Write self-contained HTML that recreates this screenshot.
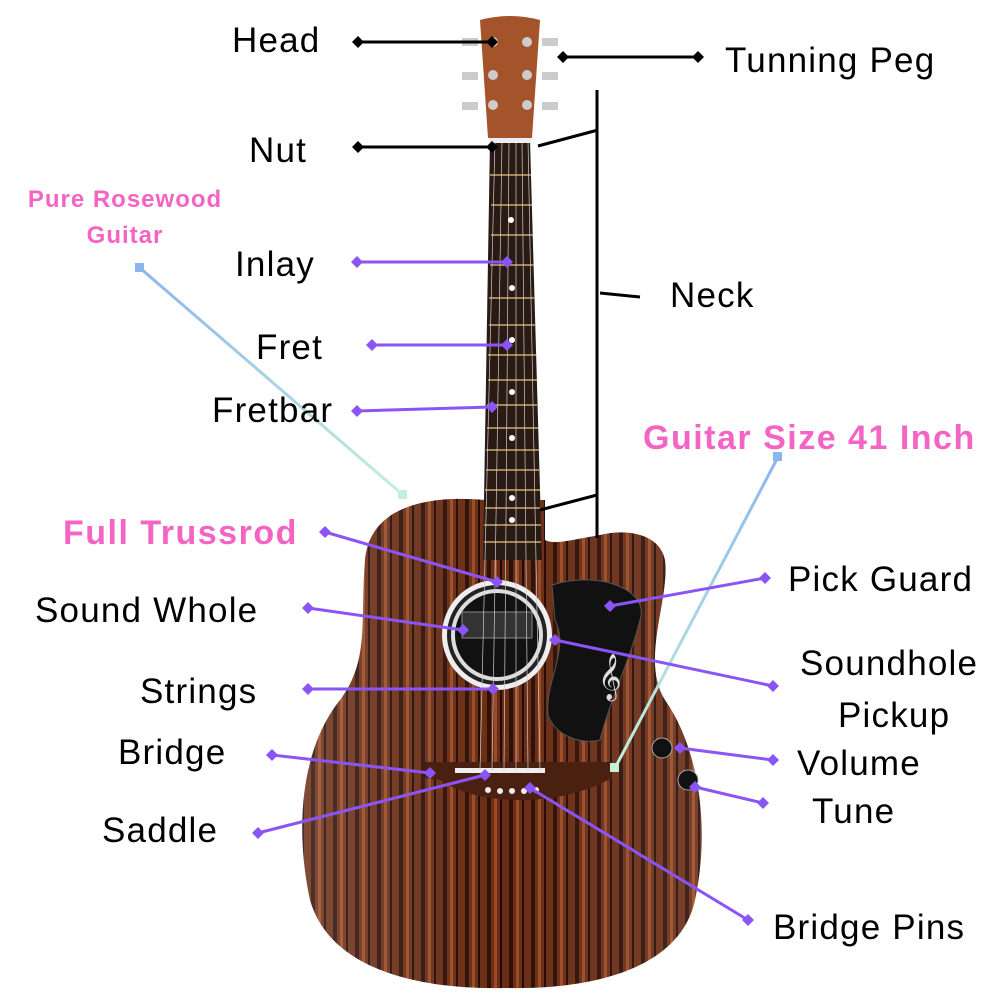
<!DOCTYPE html>
<html><head><meta charset="utf-8"><style>
html,body{margin:0;padding:0;background:#fff;}
svg{display:block}
text{font-family:"Liberation Sans",sans-serif;}
</style></head><body>
<svg width="1000" height="1000" viewBox="0 0 1000 1000" xmlns="http://www.w3.org/2000/svg">
<defs>
<pattern id="wood" width="22" height="1000" patternUnits="userSpaceOnUse">
<rect width="22" height="1000" fill="#6a2c14"/>
<rect x="3" width="4" height="1000" fill="#2e0f06"/>
<rect x="10" width="3" height="1000" fill="#9a4a24"/>
<rect x="16" width="2" height="1000" fill="#220a04"/>
</pattern>
<linearGradient id="shine" x1="0" y1="0" x2="1" y2="0">
<stop offset="0" stop-color="#fff" stop-opacity="0.15"/>
<stop offset="0.5" stop-color="#fff" stop-opacity="0"/>
<stop offset="1" stop-color="#fff" stop-opacity="0.1"/>
</linearGradient>
<linearGradient id="lb" x1="0" y1="0" x2="1" y2="1">
<stop offset="0" stop-color="#8ab6f0"/><stop offset="1" stop-color="#c4f0d8"/>
</linearGradient>
<linearGradient id="lb2" x1="1" y1="0" x2="0" y2="1">
<stop offset="0" stop-color="#8ab6f0"/><stop offset="1" stop-color="#c4f0d8"/>
</linearGradient>
</defs>
<path d="M485,500 C430,495 370,505 365,560 C360,620 370,660 340,700 C300,750 295,830 310,900 C330,970 420,990 505,988 C590,990 680,970 695,900 C710,830 700,750 665,700 C640,660 670,600 665,560 C660,535 630,528 600,535 C570,540 555,545 545,540 L545,500 Z" fill="url(#wood)"/>
<path d="M485,500 C430,495 370,505 365,560 C360,620 370,660 340,700 C300,750 295,830 310,900 C330,970 420,990 505,988 C590,990 680,970 695,900 C710,830 700,750 665,700 C640,660 670,600 665,560 C660,535 630,528 600,535 C570,540 555,545 545,540 L545,500 Z" fill="url(#shine)"/>
<circle cx="497" cy="635" r="55" fill="#eee"/>
<circle cx="497" cy="635" r="50" fill="#222"/>
<circle cx="497" cy="635" r="46" fill="#ddd"/>
<circle cx="497" cy="635" r="42" fill="#111"/>
<rect x="462" y="612" width="70" height="26" fill="#333" stroke="#888"/>
<path d="M552,585 C600,570 650,590 640,620 C630,660 610,700 600,740 C580,745 555,735 548,715 C545,680 570,650 555,620 Z" fill="#111" stroke="#555"/>
<text x="598" y="690" fill="#ddd" font-size="40">𝄞</text>
<circle cx="662" cy="748" r="10" fill="#111" stroke="#aaa"/>
<circle cx="688" cy="780" r="10" fill="#111" stroke="#aaa"/>
<path d="M425,762 L610,762 L612,778 C590,790 560,800 520,800 C480,800 455,790 440,780 L425,778 Z" fill="#4a2010"/>
<rect x="455" y="768" width="90" height="5" fill="#eee"/>
<g fill="#eee"><circle cx="488" cy="790" r="3"/><circle cx="500" cy="791" r="3"/><circle cx="512" cy="791" r="3"/><circle cx="524" cy="791" r="3"/><circle cx="536" cy="790" r="3"/></g>
<polygon points="490,140 530,140 542,560 483,560" fill="#2a1a14"/>
<g stroke="#c9a96e" stroke-width="1.5">
<line x1="490" y1="175" x2="531" y2="175"/><line x1="491" y1="205" x2="532" y2="205"/><line x1="491" y1="235" x2="533" y2="235"/><line x1="490" y1="265" x2="534" y2="265"/><line x1="489" y1="298" x2="534" y2="298"/><line x1="489" y1="325" x2="535" y2="325"/><line x1="488" y1="355" x2="536" y2="355"/><line x1="488" y1="380" x2="537" y2="380"/><line x1="487" y1="405" x2="537" y2="405"/><line x1="487" y1="428" x2="538" y2="428"/><line x1="486" y1="450" x2="539" y2="450"/><line x1="486" y1="470" x2="539" y2="470"/><line x1="485" y1="490" x2="540" y2="490"/><line x1="485" y1="508" x2="540" y2="508"/><line x1="484" y1="525" x2="541" y2="525"/><line x1="484" y1="542" x2="541" y2="542"/>
</g>
<g stroke="#ccc" stroke-width="0.7">
<line x1="495" y1="140" x2="480" y2="770"/><line x1="502" y1="140" x2="492" y2="770"/><line x1="509" y1="140" x2="504" y2="770"/><line x1="516" y1="140" x2="516" y2="770"/><line x1="522" y1="140" x2="528" y2="770"/><line x1="528" y1="140" x2="540" y2="770"/>
</g>
<g fill="#fff"><circle cx="511" cy="220" r="3"/><circle cx="512" cy="288" r="3"/><circle cx="512" cy="340" r="3"/><circle cx="512" cy="392" r="3"/><circle cx="512" cy="438" r="3"/><circle cx="512" cy="498" r="3"/><circle cx="512" cy="520" r="3"/></g>
<rect x="489" y="138" width="42" height="5" fill="#eee"/>
<path d="M480,20 Q510,12 540,20 L532,138 L488,138 Z" fill="#a4532a"/>
<g fill="#ccc"><circle cx="493" cy="42" r="5"/><circle cx="493" cy="75" r="5"/><circle cx="493" cy="105" r="5"/><circle cx="527" cy="42" r="5"/><circle cx="527" cy="75" r="5"/><circle cx="527" cy="105" r="5"/>
<rect x="462" y="38" width="16" height="8"/><rect x="462" y="72" width="16" height="8"/><rect x="462" y="102" width="16" height="8"/><rect x="542" y="38" width="16" height="8"/><rect x="542" y="72" width="16" height="8"/><rect x="542" y="102" width="16" height="8"/></g>
<g stroke="#000" stroke-width="3">
<line x1="597" y1="90" x2="597" y2="538"/><line x1="538" y1="146" x2="598" y2="130"/><line x1="600" y1="293" x2="640" y2="297"/><line x1="540" y1="510" x2="597" y2="495"/>
</g>
<g stroke="#000" stroke-width="3" fill="#000">
<line x1="358" y1="42" x2="492" y2="42"/><line x1="563" y1="57" x2="698" y2="57"/><line x1="358" y1="147" x2="492" y2="147"/>
</g>
<g fill="#000">
<path d="M358,36 l6,6 l-6,6 l-6,-6z"/><path d="M492,36 l6,6 l-6,6 l-6,-6z"/>
<path d="M563,51 l6,6 l-6,6 l-6,-6z"/><path d="M698,51 l6,6 l-6,6 l-6,-6z"/>
<path d="M358,141 l6,6 l-6,6 l-6,-6z"/><path d="M492,141 l6,6 l-6,6 l-6,-6z"/>
</g>
<line x1="140" y1="268" x2="403" y2="495" stroke="url(#lb)" stroke-width="3"/>
<rect x="135" y="263" width="9" height="9" fill="#8ab6f0"/><rect x="398" y="490" width="9" height="9" fill="#c4f0d8"/>
<line x1="778" y1="457" x2="615" y2="768" stroke="url(#lb2)" stroke-width="3"/>
<rect x="773" y="452" width="9" height="9" fill="#8ab6f0"/><rect x="610" y="763" width="9" height="9" fill="#c4f0d8"/>
<g stroke="#8b55f5" stroke-width="3">
<line x1="357" y1="262" x2="507" y2="262"/><line x1="372" y1="345" x2="507" y2="345"/><line x1="357" y1="411" x2="492" y2="407"/>
<line x1="325" y1="532" x2="497" y2="582"/><line x1="765" y1="578" x2="610" y2="606"/><line x1="308" y1="608" x2="463" y2="630"/>
<line x1="555" y1="640" x2="773" y2="686"/><line x1="308" y1="689" x2="493" y2="689"/><line x1="272" y1="755" x2="430" y2="773"/>
<line x1="680" y1="748" x2="773" y2="760"/><line x1="695" y1="787" x2="763" y2="803"/><line x1="258" y1="833" x2="485" y2="775"/><line x1="530" y1="788" x2="748" y2="920"/>
</g>
<g fill="#8b55f5">
<path d="M357,256 l6,6 l-6,6 l-6,-6z"/><path d="M507,256 l6,6 l-6,6 l-6,-6z"/>
<path d="M372,339 l6,6 l-6,6 l-6,-6z"/><path d="M507,339 l6,6 l-6,6 l-6,-6z"/>
<path d="M357,405 l6,6 l-6,6 l-6,-6z"/><path d="M492,401 l6,6 l-6,6 l-6,-6z"/>
<path d="M325,526 l6,6 l-6,6 l-6,-6z"/><path d="M497,576 l6,6 l-6,6 l-6,-6z"/>
<path d="M765,572 l6,6 l-6,6 l-6,-6z"/><path d="M610,600 l6,6 l-6,6 l-6,-6z"/>
<path d="M308,602 l6,6 l-6,6 l-6,-6z"/><path d="M463,624 l6,6 l-6,6 l-6,-6z"/>
<path d="M555,634 l6,6 l-6,6 l-6,-6z"/><path d="M773,680 l6,6 l-6,6 l-6,-6z"/>
<path d="M308,683 l6,6 l-6,6 l-6,-6z"/><path d="M493,683 l6,6 l-6,6 l-6,-6z"/>
<path d="M272,749 l6,6 l-6,6 l-6,-6z"/><path d="M430,767 l6,6 l-6,6 l-6,-6z"/>
<path d="M680,742 l6,6 l-6,6 l-6,-6z"/><path d="M773,754 l6,6 l-6,6 l-6,-6z"/>
<path d="M695,781 l6,6 l-6,6 l-6,-6z"/><path d="M763,797 l6,6 l-6,6 l-6,-6z"/>
<path d="M258,827 l6,6 l-6,6 l-6,-6z"/><path d="M485,769 l6,6 l-6,6 l-6,-6z"/>
<path d="M530,782 l6,6 l-6,6 l-6,-6z"/><path d="M748,914 l6,6 l-6,6 l-6,-6z"/>
</g>
<g font-size="35" fill="#000" letter-spacing="1.2">
<text x="232" y="52">Head</text>
<text x="725" y="72">Tunning Peg</text>
<text x="249" y="162">Nut</text>
<text x="235" y="276">Inlay</text>
<text x="256" y="359">Fret</text>
<text x="212" y="422">Fretbar</text>
<text x="670" y="307">Neck</text>
<text x="788" y="591">Pick Guard</text>
<text x="35" y="622">Sound Whole</text>
<text x="800" y="675">Soundhole</text>
<text x="838" y="727">Pickup</text>
<text x="140" y="703">Strings</text>
<text x="118" y="764">Bridge</text>
<text x="797" y="775">Volume</text>
<text x="812" y="823">Tune</text>
<text x="102" y="842">Saddle</text>
<text x="773" y="939">Bridge Pins</text>
</g>
<g fill="#f464c4" font-weight="bold">
<text x="125" y="207" font-size="24" text-anchor="middle" letter-spacing="1">Pure Rosewood</text>
<text x="125" y="243" font-size="24" text-anchor="middle" letter-spacing="1">Guitar</text>
<text x="643" y="449" font-size="34" letter-spacing="1.5">Guitar Size 41 Inch</text>
<text x="63" y="544" font-size="34" letter-spacing="1.5">Full Trussrod</text>
</g>
</svg>
</body></html>
